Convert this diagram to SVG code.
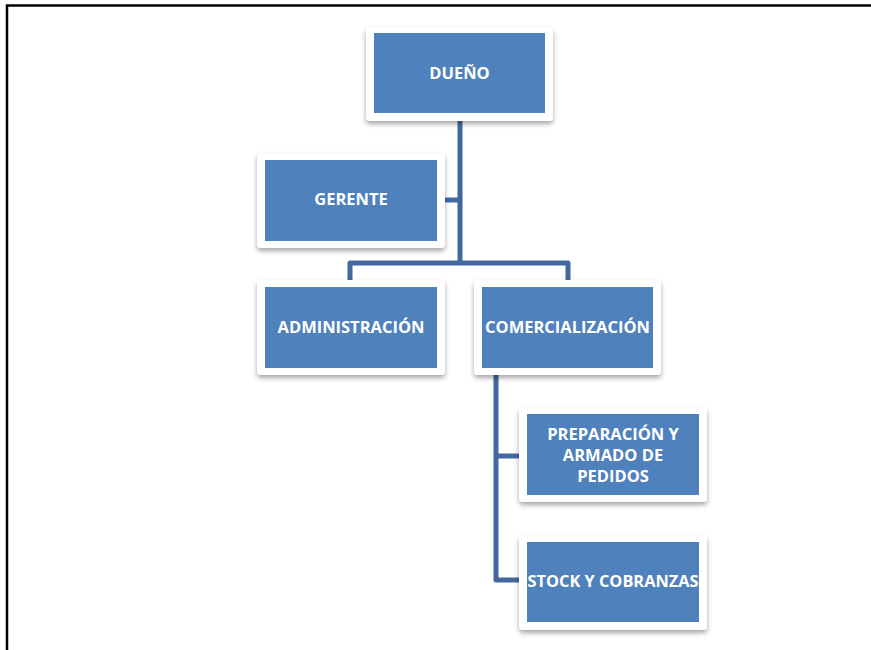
<svg xmlns="http://www.w3.org/2000/svg" width="871" height="650" viewBox="0 0 871 650">
<defs>
<filter id="sh" x="-10%" y="-10%" width="125%" height="130%">
<feDropShadow dx="0" dy="3" stdDeviation="2.5" flood-color="#000" flood-opacity="0.35"/>
</filter>
<style>
.frame{fill:#fff;filter:url(#sh)}
.box{fill:#4F81BD}
.t{font-family:"Open Sans","Liberation Sans",sans-serif;font-weight:bold;font-size:16.5px;fill:#fff;text-anchor:middle}
.c{fill:none;stroke:#41699E;stroke-width:5;stroke-linejoin:round}
.border{fill:none;stroke:#000;stroke-width:2.5}
</style>
</defs>
<rect width="871" height="650" fill="#fff"/>
<path class="border" d="M7,650 V5.5 H871"/>
<g id="connectors">
<path class="c" d="M460,121 V263"/>
<path class="c" d="M445,200 H460"/>
<path class="c" d="M350,281 V263 H568 V281"/>
<path class="c" d="M496,375 V580 H520"/>
<path class="c" d="M496,456 H520"/>
</g>
<g id="dueno">
<rect class="frame" x="366" y="27" width="187" height="94" rx="4"/>
<rect class="box" x="374" y="33" width="171" height="80"/>
<text class="t" x="459.5" y="79">DUEÑO</text>
</g>
<g id="gerente">
<rect class="frame" x="257" y="153" width="188" height="95" rx="4"/>
<rect class="box" x="265" y="160" width="172" height="81"/>
<text class="t" x="351" y="205">GERENTE</text>
</g>
<g id="administracion">
<rect class="frame" x="257" y="280" width="188" height="95" rx="4"/>
<rect class="box" x="265" y="287" width="172" height="81"/>
<text class="t" x="351" y="333">ADMINISTRACIÓN</text>
</g>
<g id="comercializacion">
<rect class="frame" x="474" y="280" width="187" height="95" rx="4"/>
<rect class="box" x="482" y="287" width="171" height="81"/>
<text class="t" x="567.5" y="333">COMERCIALIZACIÓN</text>
</g>
<g id="preparacion">
<rect class="frame" x="519" y="407" width="188" height="95" rx="4"/>
<rect class="box" x="527" y="414" width="172" height="81"/>
<text class="t" x="613" y="440">PREPARACIÓN Y</text>
<text class="t" x="613" y="461">ARMADO DE</text>
<text class="t" x="613" y="482">PEDIDOS</text>
</g>
<g id="stock">
<rect class="frame" x="519" y="535" width="188" height="95" rx="4"/>
<rect class="box" x="527" y="542" width="172" height="80"/>
<text class="t" x="613" y="587" textLength="171" lengthAdjust="spacingAndGlyphs">STOCK Y COBRANZAS</text>
</g>
</svg>
